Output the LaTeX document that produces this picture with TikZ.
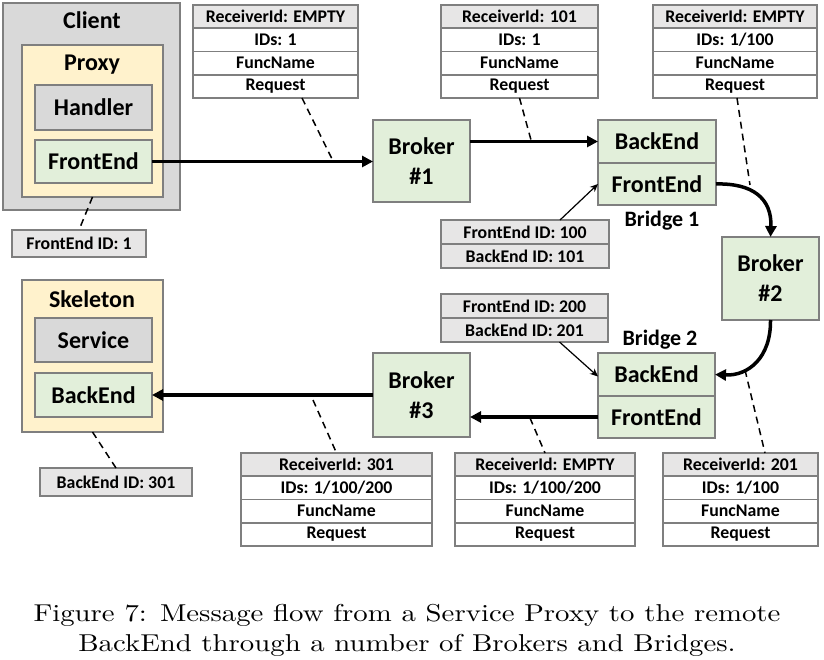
\documentclass[tikz,border=0pt]{standalone}
\usepackage{fontspec}
\newfontfamily\calibri{Carlito}
\newfontfamily\capfont{lmroman10-regular}[Extension=.otf, FakeStretch=1.18]
\usepackage{xcolor}
\usepackage{tikz}
\usetikzlibrary{positioning,arrows.meta}

\definecolor{bordergray}{HTML}{7F7F7F}
\definecolor{grayfill}{HTML}{D9D9D9}
\definecolor{headfill}{HTML}{E7E6E6}
\definecolor{yellowfill}{HTML}{FFF2CC}
\definecolor{greenfill}{HTML}{E2EFDA}

\begin{document}
\begin{tikzpicture}[
    x=1pt, y=-1pt,
    box/.style={rectangle, draw=bordergray, line width=2.8pt, inner sep=0pt, outer sep=0pt, align=center, font=\calibri\bfseries\fontsize{24}{30}\selectfont},
    graybox/.style={box, fill=grayfill},
    greenbox/.style={box, fill=greenfill},
    yellowbox/.style={box, fill=yellowfill},
    title/.style={inner sep=0pt, font=\calibri\bfseries\fontsize{24}{28}\selectfont},
    field/.style={rectangle, draw=bordergray, line width=1.6pt, fill=white, minimum width=#1, minimum height=23.25pt, inner sep=0pt, outer sep=0pt, font=\calibri\bfseries\fontsize{17.8}{20}\selectfont},
    head/.style={field=#1, fill=headfill},
    arrow/.style={-{Triangle[length=11pt, width=11pt]}, line width=3.5pt},
    thinarrow/.style={-{Stealth[length=8pt, width=7pt]}, line width=1.2pt},
    dashline/.style={line width=1.5pt, dash pattern=on 7pt off 5pt}
]
    \useasboundingbox (0,0) rectangle (824,660);

    % Client side
    \node[graybox, minimum width=177pt, minimum height=207pt] (client) at (91.5,106.5) {};
    \node[title] (clienttitle) at (92,20) {Client};
    \node[yellowbox, minimum width=141pt, minimum height=152pt] (proxy) at (92.5,121) {};
    \node[title] (proxytitle) at (92,65) {Proxy};
    \node[graybox, minimum width=117pt, minimum height=45pt] (handler) at (93.5,107.5) {Handler};
    \node[greenbox, minimum width=117pt, minimum height=43pt] (cfront) at (93.5,161.5) {FrontEnd};
    \node[head=134pt, minimum height=27pt] (feid) at (79,243.5) {FrontEnd ID: 1};

    % Skeleton side
    \node[yellowbox, minimum width=141pt, minimum height=152pt] (skeleton) at (92.5,356) {};
    \node[title] (skeletontitle) at (92,299) {Skeleton};
    \node[graybox, minimum width=117pt, minimum height=44pt] (service) at (93.5,340) {Service};
    \node[greenbox, minimum width=117pt, minimum height=44pt] (sback) at (93.5,395) {BackEnd};
    \node[head=152pt, minimum height=28pt] (beid) at (116,482) {BackEnd ID: 301};

    % Brokers
    \node[greenbox, minimum width=97pt, minimum height=82pt] (broker1) at (421.5,161) {Broker\\\#1};
    \node[greenbox, minimum width=97pt, minimum height=83pt] (broker2) at (770.5,278.5) {Broker\\\#2};
    \node[greenbox, minimum width=97pt, minimum height=84pt] (broker3) at (421.5,395) {Broker\\\#3};

    % Bridges
    \node[greenbox, minimum width=118pt, minimum height=43pt] (b1back) at (657,141.5) {BackEnd};
    \node[greenbox, minimum width=118pt, minimum height=42pt, below=0pt of b1back] (b1front) {FrontEnd};
    \node[title, font=\calibri\bfseries\fontsize{22}{26}\selectfont] (bridge1) at (662,221) {Bridge 1};
    \node[greenbox, minimum width=117pt, minimum height=43pt] (b2back) at (656.5,374.5) {BackEnd};
    \node[greenbox, minimum width=117pt, minimum height=42pt, below=0pt of b2back] (b2front) {FrontEnd};
    \node[title, font=\calibri\bfseries\fontsize{22}{26}\selectfont] (bridge2) at (660,340) {Bridge 2};

    % Bridge IDs
    \node[head=168pt, minimum height=24pt] (ids1a) at (525,232) {FrontEnd ID: 100};
    \node[head=168pt, minimum height=24pt, below=0pt of ids1a] (ids1b) {BackEnd ID: 101};
    \node[head=167pt, minimum height=24pt] (ids2a) at (524.5,306) {FrontEnd ID: 200};
    \node[head=167pt, minimum height=24pt, below=0pt of ids2a] (ids2b) {BackEnd ID: 201};

    % Messages
    \node[head=165pt, anchor=north west] (msgAhead) at (193,5) {ReceiverId: EMPTY};
    \node[field=165pt, below=0pt of msgAhead] (msgAids) {IDs: 1};
    \node[field=165pt, below=0pt of msgAids] (msgAfunc) {FuncName};
    \node[field=165pt, below=0pt of msgAfunc] (msgAreq) {Request};

    \node[head=157pt, anchor=north west] (msgBhead) at (441,5) {ReceiverId: 101};
    \node[field=157pt, below=0pt of msgBhead] (msgBids) {IDs: 1};
    \node[field=157pt, below=0pt of msgBids] (msgBfunc) {FuncName};
    \node[field=157pt, below=0pt of msgBfunc] (msgBreq) {Request};

    \node[head=164pt, anchor=north west] (msgChead) at (653,5) {ReceiverId: EMPTY};
    \node[field=164pt, below=0pt of msgChead] (msgCids) {IDs: 1/100};
    \node[field=164pt, below=0pt of msgCids] (msgCfunc) {FuncName};
    \node[field=164pt, below=0pt of msgCfunc] (msgCreq) {Request};

    \node[head=191pt, anchor=north west] (msgDhead) at (241,453) {ReceiverId: 301};
    \node[field=191pt, below=0pt of msgDhead] (msgDids) {IDs: 1/100/200};
    \node[field=191pt, below=0pt of msgDids] (msgDfunc) {FuncName};
    \node[field=191pt, below=0pt of msgDfunc] (msgDreq) {Request};

    \node[head=180pt, anchor=north west] (msgEhead) at (455,453) {ReceiverId: EMPTY};
    \node[field=180pt, below=0pt of msgEhead] (msgEids) {IDs: 1/100/200};
    \node[field=180pt, below=0pt of msgEids] (msgEfunc) {FuncName};
    \node[field=180pt, below=0pt of msgEfunc] (msgEreq) {Request};

    \node[head=155pt, anchor=north west] (msgFhead) at (663,453) {ReceiverId: 201};
    \node[field=155pt, below=0pt of msgFhead] (msgFids) {IDs: 1/100};
    \node[field=155pt, below=0pt of msgFids] (msgFfunc) {FuncName};
    \node[field=155pt, below=0pt of msgFfunc] (msgFreq) {Request};

    % Flow arrows
    \draw[arrow] (cfront.east) -- (cfront.east -| broker1.west);
    \draw[arrow] (b1back.west -| broker1.east) -- (b1back.west);
    \draw[arrow] (b1front.east) .. controls (752,183) and (772,198) .. (broker2.north);
    \draw[arrow] (broker2.south) .. controls (771,358) and (748,376) .. (b2back.east);
    \draw[arrow] (b2front.west) -- (b2front.west -| broker3.east);
    \draw[arrow] (sback.east -| broker3.west) -- (sback.east);

    % ID arrows
    \draw[thinarrow] ([xshift=35pt]ids1a.north) -- (b1front.west);
    \draw[thinarrow] ([xshift=35pt]ids2b.south) -- ([yshift=-2pt]b2back.west);

    % Message links
    \coordinate (tapA) at (333,161);
    \coordinate (tapB) at (531,140);
    \coordinate (tapC) at (750,185);
    \coordinate (tapD) at (313,400);
    \coordinate (tapE) at (530,418);
    \coordinate (tapF) at (745,370);
    \draw[dashline] ([xshift=26.5pt]msgAreq.south) -- (tapA);
    \draw[dashline] (msgBreq.south) -- (tapB);
    \draw[dashline] ([xshift=2pt]msgCreq.south) -- (tapC);
    \draw[dashline] (tapD) -- (msgDhead.north);
    \draw[dashline] (tapE) -- (msgEhead.north);
    \draw[dashline] (tapF) -- ([xshift=24.5pt]msgFhead.north);
    \draw[dashline] (proxy.south) -- (feid.north);
    \draw[dashline] (skeleton.south) -- (beid.north);

    % Caption
    \node[align=center, font=\capfont\fontsize{24.4}{30}\selectfont] (caption) at (407,630) {\makebox[747pt][s]{Figure 7: Message flow from a Service Proxy to the remote}\\BackEnd through a number of Brokers and Bridges.};
\end{tikzpicture}
\end{document}
